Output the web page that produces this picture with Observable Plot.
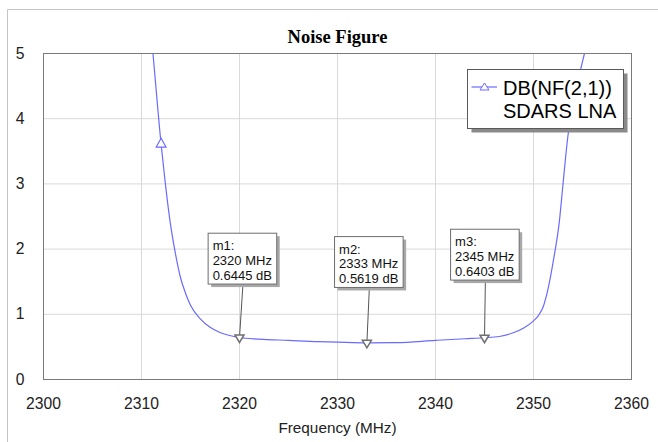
<!DOCTYPE html>
<html><head><meta charset="utf-8">
<script src="https://cdn.jsdelivr.net/npm/d3@7"></script>
<script src="https://cdn.jsdelivr.net/npm/@observablehq/plot@0.6"></script>
<style>body{margin:0;background:#fff;} #chart svg{display:block;}</style>
</head><body><div id="chart"></div>
<script>
// Noise figure curve (frequency in MHz, NF in dB)
const freqMHz = [2311.0, 2311.17, 2312.0, 2312.4, 2312.9, 2313.44, 2313.95, 2314.5, 2315.0, 2316.0, 2317.0, 2318.0, 2320, 2322, 2325, 2328, 2330, 2333, 2336, 2340, 2343, 2345, 2346.5, 2348.0, 2349.0, 2350.0, 2350.5, 2351.0, 2351.5, 2352.0, 2352.65, 2353.0, 2353.5, 2354.0, 2354.6, 2355.2, 2355.6];
const nfDb    = [5.28, 5.0, 3.61, 3.05, 2.44, 1.95, 1.58, 1.32, 1.14, 0.93, 0.80, 0.72, 0.6445, 0.62, 0.60, 0.58, 0.572, 0.5619, 0.565, 0.60, 0.625, 0.6403, 0.66, 0.72, 0.79, 0.90, 0.98, 1.12, 1.40, 1.80, 2.44, 2.98, 3.72, 4.20, 4.62, 5.0, 5.25];
// trace symbol position
const symbolFreq = [2312];
const symbolDb = [3.61];
// ticks
const xTicks = [2300, 2310, 2320, 2330, 2340, 2350, 2360];
const yTicks = [0, 1, 2, 3, 4, 5];
// markers
const markerName = ["m1", "m2", "m3"];
const markerFreq = [2320, 2333, 2345];
const markerDb = [0.6445, 0.5619, 0.6403];
const boxCenterFreq = [2320.35, 2333.25, 2345.09];
const boxTopDb = [2.236, 2.184, 2.297];
// legend
const legendLines = ["DB(NF(2,1))", "SDARS LNA"];
const titleText = "Noise Figure";
const xLabel = "Frequency (MHz)";

const curve = freqMHz.map((f, i) => ({f, v: nfDb[i]}));
const syms = symbolFreq.map((f, i) => ({f, v: symbolDb[i]}));
const markers = markerName.map((n, i) => ({
  f: markerFreq[i], v: markerDb[i], cf: boxCenterFreq[i], top: boxTopDb[i],
  label: `${n}:\n${markerFreq[i]} MHz\n${markerDb[i].toFixed(4)} dB`
}));
const halfW = 3.5, boxH = 0.78;
const blue = "#6a6aff";

const triangleDown = {draw(ctx, size) { const k = Math.sqrt(size / Math.PI);
  ctx.moveTo(-0.9 * k, -0.5 * k); ctx.lineTo(0.9 * k, -0.5 * k); ctx.lineTo(0, k); ctx.closePath(); }};
const triangleUp = {draw(ctx, size) { const k = Math.sqrt(size / Math.PI);
  ctx.moveTo(-k, 0.6 * k); ctx.lineTo(k, 0.6 * k); ctx.lineTo(0, -1.2 * k); ctx.closePath(); }};

const W = 658, H = 442, mL = 43, mR = 27, mT = 53, mB = 63;
const sans = "'Liberation Sans', Arial, sans-serif";

const chart = Plot.plot({
  width: W, height: H, marginLeft: mL, marginRight: mR, marginTop: mT, marginBottom: mB,
  style: {fontFamily: sans, fontSize: "15.7px", color: "#222", background: "#fff", overflow: "visible"},
  x: {domain: [2300, 2360], ticks: xTicks, tickSize: 0, tickPadding: 18, label: null, tickFormat: d => String(d)},
  y: {domain: [0, 5], ticks: yTicks, tickSize: 0, tickPadding: 19, label: null, tickFormat: d => String(d)},
  marks: [
    Plot.ruleX(xTicks.slice(1, -1), {stroke: "#d9d9d9"}),
    Plot.ruleY(yTicks.slice(1, -1), {stroke: "#d9d9d9"}),
    Plot.line(curve, {x: "f", y: "v", stroke: blue, strokeWidth: 1.2, curve: "monotone-x", clip: true}),
    Plot.dot(syms, {x: "f", y: "v", symbol: triangleUp, r: 5, stroke: blue, fill: "white", strokeWidth: 1.1}),
    Plot.frame({stroke: "#7a7a7a"}),
    Plot.link(markers, {x1: "cf", y1: d => d.top - boxH, x2: "f", y2: "v", stroke: "#555"}),
    Plot.dot(markers, {x: "f", y: "v", symbol: triangleDown, r: 5, stroke: "#707070", fill: "white"}),
    Plot.rect(markers, {x1: d => d.cf - halfW, x2: d => d.cf + halfW, y1: d => d.top - boxH, y2: "top", fill: "#a8a8a8", dx: 3, dy: 3}),
    Plot.rect(markers, {x1: d => d.cf - halfW, x2: d => d.cf + halfW, y1: d => d.top - boxH, y2: "top", fill: "white", stroke: "#6d6d6d"}),
    Plot.text(markers, {x: d => d.cf - halfW, y: "top", text: "label", textAnchor: "start", lineAnchor: "top", dx: 4, dy: 6, fontSize: 13, lineHeight: 1.13, fill: "#111"}),
    Plot.text([titleText], {text: d => d, frameAnchor: "top", lineAnchor: "bottom", dy: -11, fontFamily: "'Liberation Serif', 'Times New Roman', serif", fontWeight: "bold", fontSize: 18.5, fill: "#000"}),
    Plot.text([xLabel], {text: d => d, frameAnchor: "bottom", lineAnchor: "middle", dy: 49, fontSize: 15.3, fill: "#222"})
  ]
});
document.getElementById("chart").appendChild(chart);

// outer border and legend
const svg = d3.select(chart);
svg.append("path").attr("d", `M7.5,${H}V9.5H${W}`).attr("fill", "none").attr("stroke", "#c4c4c4");
const lx = W - mR - 8 - 156, ly = mT + 16;
const g = svg.append("g").attr("transform", `translate(${lx},${ly})`);
g.append("rect").attr("x", 4.5).attr("y", 4.5).attr("width", 156).attr("height", 59).attr("fill", "#8a8a8a");
g.append("rect").attr("x", 0.5).attr("y", 0.5).attr("width", 156).attr("height", 59).attr("fill", "white").attr("stroke", "#5a5a5a");
g.append("line").attr("x1", 4.5).attr("x2", 30).attr("y1", 18).attr("y2", 18).attr("stroke", blue).attr("stroke-width", 1.2);
g.append("path").attr("d", "M13,21H22L17.5,14Z").attr("fill", "white").attr("stroke", blue);
legendLines.forEach((t, i) => g.append("text").attr("x", 36).attr("y", 26 + i * 23)
  .attr("text-anchor", "start").attr("font-family", sans).attr("font-size", 20).attr("fill", "#000").text(t));
</script></body></html>
